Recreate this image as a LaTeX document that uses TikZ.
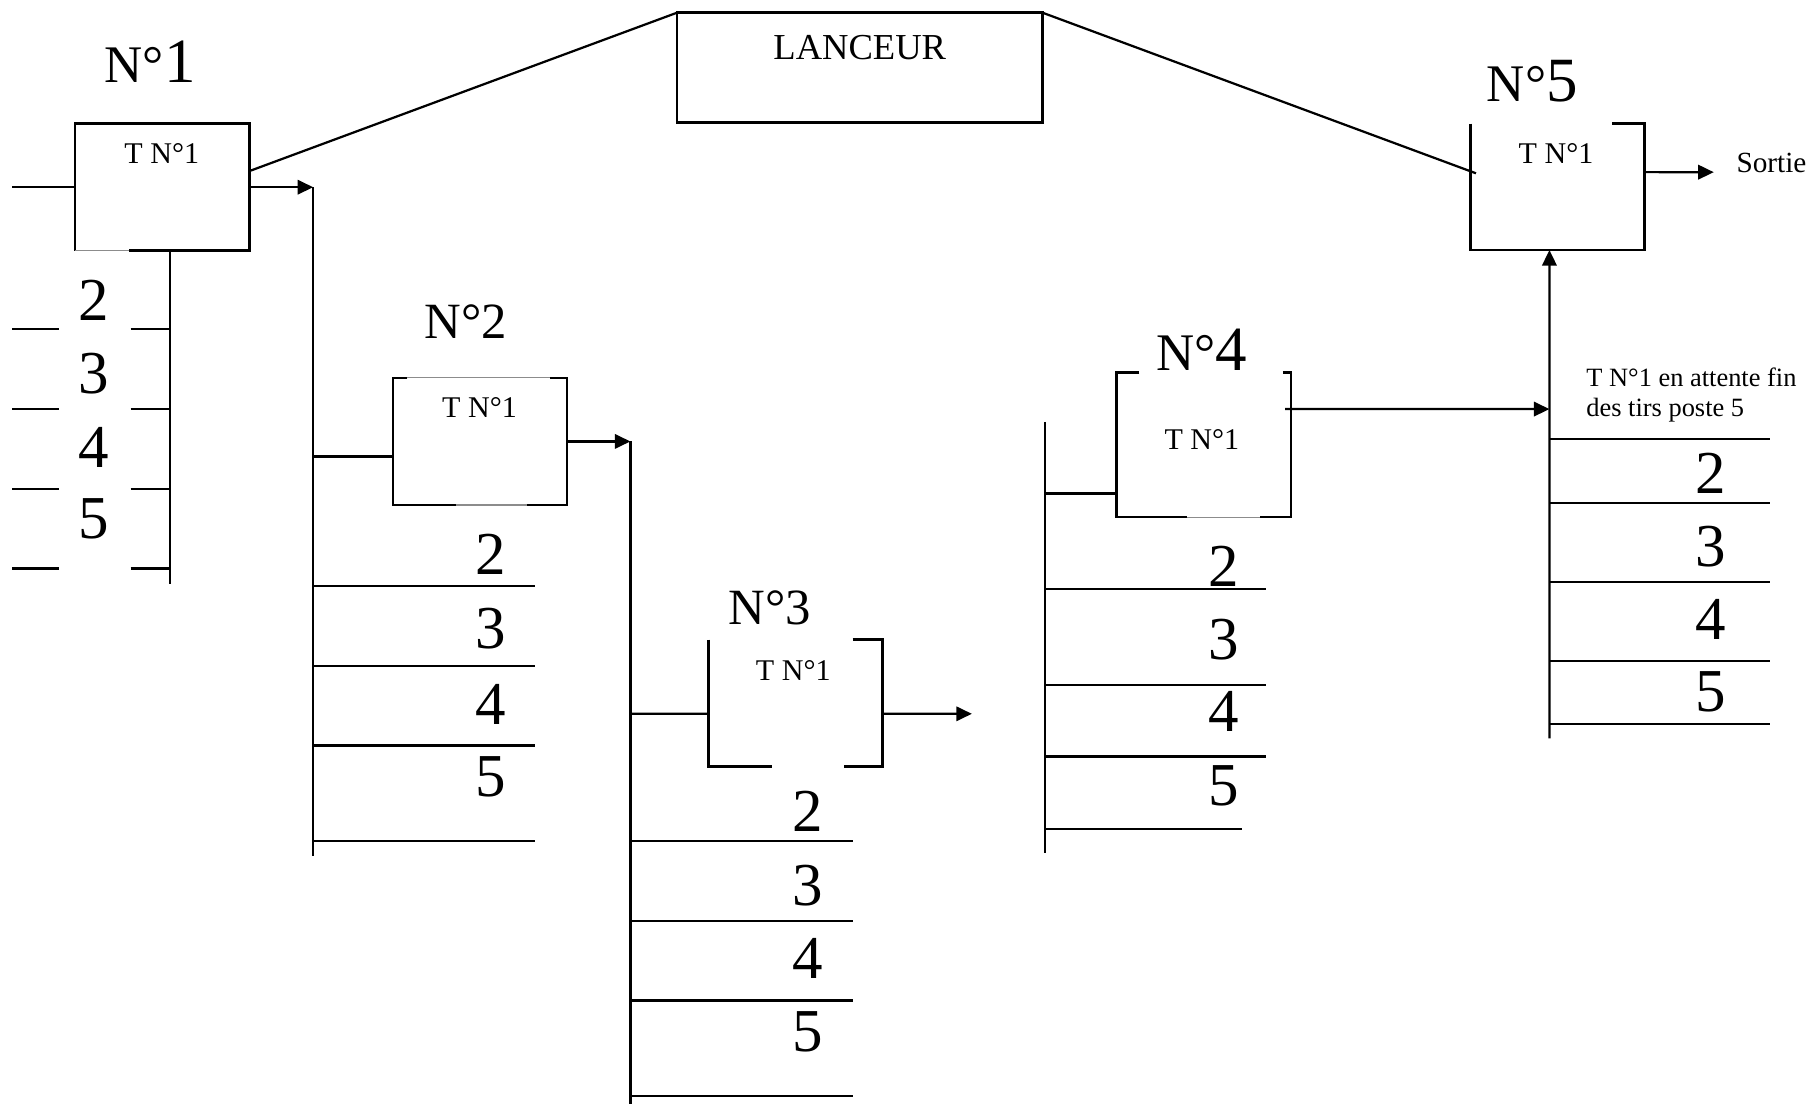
\documentclass[tikz,border=0pt]{standalone}
\usepackage{fontspec}
\setmainfont{Liberation Serif}
\usetikzlibrary{arrows.meta,calc}
\begin{document}
\begin{tikzpicture}[x=0.01cm,y=-0.01cm, line width=0.55pt,
  frame/.style={inner sep=0pt,outer sep=0pt,draw=none},
  tn/.style={inner sep=0pt,font=\fontsize{7.4}{8}\selectfont},
  num/.style={inner sep=0pt,font=\fontsize{15}{16}\selectfont},
  lbl/.style={inner sep=0pt,anchor=base,font=\fontsize{12.5}{14}\selectfont},
  arr/.style={-{Triangle[length=1.35mm,width=1.25mm]}},
  edge/.style={line width=0.65pt},
  faint/.style={line width=0.3pt,black!45},
]
\useasboundingbox (0,0) rectangle (1568,955);

% ---------- LANCEUR ----------
\node[frame,minimum width=3.16cm,minimum height=0.95cm] (L) at (744,58.5) {};
\draw[edge] (L.north west) rectangle (L.south east);
\node[inner sep=0pt,font=\fontsize{9}{10}\selectfont] (Lt) at (744,41) {LANCEUR};

% ---------- boxes ----------
\node[frame,minimum width=1.51cm,minimum height=1.10cm] (b1) at (140.5,162) {};
\draw[edge] ($(b1.south west)+(47,0)$) -- (b1.south east) -- (b1.north east) -- (b1.north west) -- (b1.south west);
\draw[faint] (b1.south west) -- ++(47,0);

\node[frame,minimum width=1.506cm,minimum height=1.10cm] (b2) at (415.3,382) {};
\draw[edge] ($(b2.north west)+(12.5,0)$) -- (b2.north west) -- (b2.south west) -- ++(54.5,0);
\draw[edge] ($(b2.north east)+(-14.5,0)$) -- (b2.north east) -- (b2.south east) -- ++(-35,0);
\draw[faint] ($(b2.north west)+(12.5,0)$) -- ($(b2.north east)+(-14.5,0)$);
\draw[faint] ($(b2.south west)+(54.5,0)$) -- ($(b2.south east)+(-35,0)$);

\node[frame,minimum width=1.507cm,minimum height=1.099cm] (b3) at (688.35,608.55) {};
\draw[edge] (b3.north west) -- (b3.south west) -- ++(55,0);
\draw[edge] ($(b3.north east)+(-26,0)$) -- (b3.north east) -- (b3.south east) -- ++(-33,0);

\node[frame,minimum width=1.51cm,minimum height=1.249cm] (b4) at (1041.5,385) {};
\draw[edge] ($(b4.north west)+(20,0)$) -- (b4.north west) -- (b4.south west) -- ++(61,0);
\draw[edge] ($(b4.north east)+(-7,0)$) -- (b4.north east) -- (b4.south east) -- ++(-27,0);
\draw[faint] ($(b4.south west)+(61,0)$) -- ($(b4.south east)+(-27,0)$);

\node[frame,minimum width=1.505cm,minimum height=1.093cm] (b5) at (1348,161.65) {};
\draw[edge] (b5.north west) -- (b5.south west) -- (b5.south east) -- (b5.north east) -- ++(-28,0);

% ---------- texts in boxes ----------
\node[tn] (t1) at (140,133) {T N°1};
\node[tn] (t2) at (415,353) {T N°1};
\node[tn] (t3) at (686.5,580) {T N°1};
\node[tn] (t4) at (1040,380.5) {T N°1};
\node[tn] (t5) at (1346.5,132.7) {T N°1};

% ---------- station labels ----------
\node[lbl] (N1) at (130,71) {{\fontsize{13}{14}\selectfont N°}{\fontsize{15.5}{16}\selectfont 1}};
\node[lbl] (N2) at (403,293) {N°2};
\node[lbl] (N3) at (666,540.8) {N°3};
\node[lbl] (N4) at (1040,320.9) {{\fontsize{13}{14}\selectfont N°}{\fontsize{15.5}{16}\selectfont 4}};
\node[lbl] (N5) at (1326,88) {{\fontsize{13}{14}\selectfont N°}{\fontsize{15.5}{16}\selectfont 5}};

% ---------- links from LANCEUR ----------
\draw (L.north west) -- ($(b1.north east)+(0,41)$);
\draw (L.north east) -- ($(b5.north west)+(4.5,43)$);

% ---------- station 1 ----------
\coordinate (in1) at (10.8,162);
\coordinate (v1t) at (271,162);
\coordinate (v1b) at (271,741);
\draw (in1) -- (b1.west);
\draw[arr] (b1.east) -- (v1t);
\draw (v1t) -- (v1b);
\coordinate (s1t) at (147,217);
\coordinate (s1b) at (147,505);
\draw (s1t) -- (s1b);
\foreach \y in {285,354,423,492} {
  \draw (10.8,\y) -- (51,\y);
  \draw (113,\y) -- (147,\y);
}
\foreach \n/\y in {2/260,3/323,4/387,5/449} \node[num] (a\n) at (81,\y) {\n};

% ---------- station 2 ----------
\coordinate (v2t) at (545.5,382);
\coordinate (v2b) at (545.5,955);
\coordinate (i2) at (271,395);
\draw (i2) -- ($(b2.west)+(0,13)$);
\draw[arr] (b2.east) -- (v2t);
\draw (v2t) -- (v2b);
\foreach \y in {506.9,576.5,645.2,727.6} \draw (271,\y) -- (463,\y);
\foreach \n/\y in {2/480,3/544,4/610,5/672} \node[num] (c\n) at (425,\y) {\n};

% ---------- station 3 ----------
\coordinate (i3) at (545.5,617.7);
\coordinate (o3) at (841,617.7);
\draw (i3) -- ($(b3.west)+(0,9.15)$);
\draw[arr] ($(b3.east)+(0,9.15)$) -- (o3);
\foreach \y in {727.6,797.2,865.8,948.2} \draw (545.5,\y) -- (737.8,\y);
\foreach \n/\y in {2/702,3/766,4/829.6,5/893} \node[num] (d\n) at (699,\y) {\n};

% ---------- station 4 ----------
\coordinate (v4t) at (904,365);
\coordinate (v4b) at (904,738);
\draw (v4t) -- (v4b);
\coordinate (i4) at (904,427);
\draw (i4) -- ($(b4.west)+(0,42)$);
\coordinate (o4) at (1340.8,354);
\draw[arr] ($(b4.north east)+(-5,31.5)$) -- (o4);
\foreach \y in {509.6,592.5,654.7} \draw (904,\y) -- (1095.6,\y);
\draw (904,717.7) -- (1074.6,717.7);
\foreach \n/\y in {2/490,3/553.6,4/616,5/680} \node[num] (e\n) at (1058.7,\y) {\n};

% ---------- station 5 ----------
\coordinate (v5b) at (1340.8,639);
\draw[arr] (v5b) -- ($(b5.south)+(-7.2,0)$);
\coordinate (o5) at (1483,149);
\draw[arr] ($(b5.east)+(0,-12.7)$) -- (o5);
\node[inner sep=0pt,anchor=west,font=\fontsize{7.2}{8}\selectfont] (so) at (1501.7,141) {Sortie};
\node[inner sep=0pt,anchor=north west,align=left,font=\fontsize{6.5}{7.3}\selectfont] (att) at (1371.8,317.6) {T N°1 en attente fin\\des tirs poste 5};
\foreach \y in {380,435,503.6,571.8,626.4} \draw (1340.8,\y) -- (1531.8,\y);
\foreach \n/\y in {2/409.6,3/472.6,4/536,5/598.6} \node[num] (f\n) at (1480,\y) {\n};
\end{tikzpicture}
\end{document}
